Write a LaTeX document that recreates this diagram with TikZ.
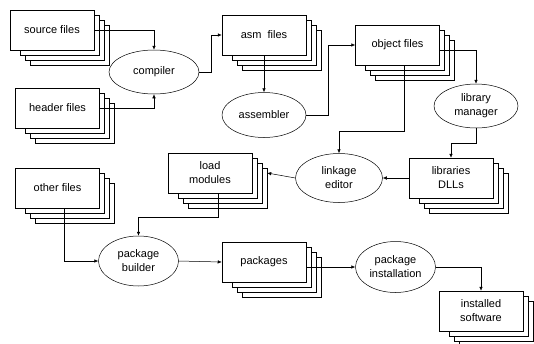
\documentclass[tikz,border=0pt]{standalone}
\usepackage{fontspec}
\setmainfont{Liberation Sans}
\usetikzlibrary{arrows.meta,shapes.geometric}

\newcommand\filestack[4]{%
  \foreach \k in {3,2,1}
    \draw[layer] ({#2-37+5*\k},{#3-20+5*\k}) rectangle ({#2+42+5*\k},{#3+20+5*\k});
  \node[filebox] (#1) at (#2,#3) {#4};
}

\begin{document}
\begin{tikzpicture}[x=1pt,y=-1pt,line width=0.5pt,
  font=\fontsize{11}{14}\selectfont,
  layer/.style={draw,fill=white},
  filebox/.style={draw,fill=white,minimum width=84pt,minimum height=40pt,inner sep=0pt,align=center},
  tool/.style={draw,ellipse,inner xsep=-4pt,inner ysep=0pt,align=center},
  arr/.style={-{Latex[length=4pt,width=3.5pt]}}]
  \useasboundingbox (0,0) rectangle (534,343);
  % file stacks
  \filestack{src}{52}{30}{source files}
  \filestack{hdr}{57.5}{108}{header files}
  \filestack{asm}{264}{35}{asm~~files}
  \filestack{obj}{397.5}{45}{object files}
  \filestack{libs}{451}{178}{libraries\\DLLs}
  \filestack{load}{210}{173}{load\\modules}
  \filestack{oth}{57.5}{188}{other files}
  \filestack{pkg}{264}{262}{packages}
  \filestack{sw}{481}{311}{installed\\software}
  % tools
  \node[tool,minimum width=90pt,minimum height=44pt] (comp) at (154,72) {compiler};
  \node[tool,minimum width=84pt,minimum height=45pt] (asmb) at (264,115) {assembler};
  \node[tool,minimum width=84pt,minimum height=44pt] (libm) at (476,106) {library\\manager};
  \node[tool,minimum width=87pt,minimum height=49pt] (link) at (339,178) {linkage\\editor};
  \node[tool,minimum width=80pt,minimum height=50pt] (bld) at (138.5,261) {package\\builder};
  \node[tool,minimum width=80pt,minimum height=51pt] (inst) at (395.5,267) {package\\installation};
  % connectors
  \draw[arr] (src.east) -| (comp.north);
  \draw[arr] (hdr.east) -| (comp.south);
  \draw[arr] (comp.east) -- ++(12,0) |- (asm.west);
  \draw[arr] (asm.south) -- (asmb.north);
  \draw[arr] (asmb.east) -- ++(22,0) |- (obj.west);
  \draw[arr] ([yshift=-5pt]obj.east) -| (libm.north);
  \draw[arr] ([xshift=6.5pt]obj.south) |- ([yshift=22pt]link.north) -- (link.north);
  \draw[arr] (libm.south) -- ++(0,15) -| (libs.north);
  \draw[arr] (libs.west) -- (link.east);
  \draw[arr] (link.west) -- ([xshift=15pt]load.east);
  \draw[arr] ([xshift=8pt]load.south) -- ++(0,24) -| (bld.north);
  \draw[arr] ([xshift=6.5pt]oth.south) |- (bld.west);
  \draw[arr] (bld.east) -- (pkg.west);
  \draw[arr] ([yshift=-5pt]pkg.east) -- (inst.west);
  \draw[arr] (inst.east) -| (sw.north);
\end{tikzpicture}
\end{document}
